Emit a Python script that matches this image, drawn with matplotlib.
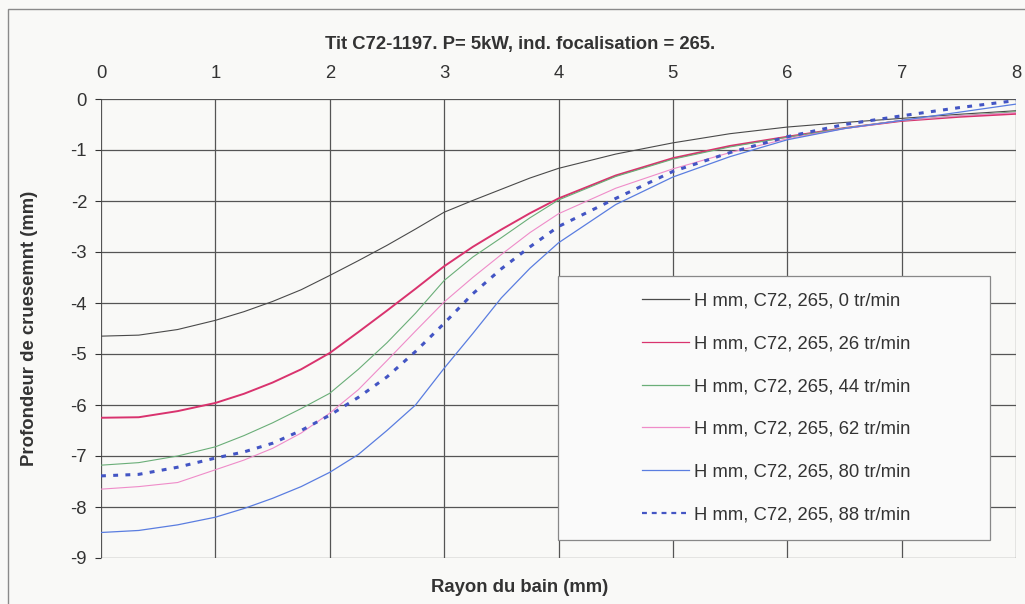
import matplotlib
matplotlib.use("Agg")
import matplotlib.pyplot as plt
from matplotlib.patches import Rectangle

plt.rcParams['font.family'] = ['Liberation Sans', 'DejaVu Sans']

# ---- data ----
rayon = [0, 0.33, 0.67, 1, 1.25, 1.5, 1.75, 2, 2.25, 2.5, 2.75, 3, 3.25, 3.5, 3.75, 4,
         4.5, 5, 5.5, 6, 6.5, 7, 7.5, 8]
h_0 = [-4.65, -4.63, -4.52, -4.34, -4.17, -3.97, -3.74, -3.46, -3.17, -2.87, -2.55, -2.22,
       -1.99, -1.77, -1.55, -1.36, -1.08, -0.86, -0.68, -0.55, -0.46, -0.38, -0.30, -0.23]
h_26 = [-6.25, -6.24, -6.12, -5.96, -5.78, -5.56, -5.30, -4.98, -4.57, -4.15, -3.72, -3.28,
        -2.90, -2.56, -2.24, -1.95, -1.50, -1.16, -0.92, -0.74, -0.57, -0.43, -0.35, -0.29]
h_44 = [-7.18, -7.13, -7.00, -6.82, -6.60, -6.35, -6.07, -5.77, -5.30, -4.78, -4.20, -3.56,
        -3.10, -2.72, -2.33, -1.98, -1.52, -1.18, -0.94, -0.75, -0.57, -0.42, -0.33, -0.25]
h_62 = [-7.65, -7.60, -7.52, -7.27, -7.08, -6.85, -6.55, -6.16, -5.70, -5.13, -4.55, -3.98,
        -3.50, -3.05, -2.62, -2.25, -1.75, -1.37, -1.05, -0.78, -0.58, -0.42, -0.33, -0.27]
h_80 = [-8.50, -8.46, -8.35, -8.20, -8.03, -7.83, -7.60, -7.32, -6.97, -6.50, -6.00, -5.28,
        -4.60, -3.90, -3.32, -2.82, -2.07, -1.53, -1.13, -0.80, -0.58, -0.42, -0.26, -0.10]
h_88 = [-7.39, -7.36, -7.22, -7.04, -6.92, -6.75, -6.50, -6.20, -5.85, -5.45, -4.95, -4.40,
        -3.82, -3.33, -2.90, -2.50, -1.95, -1.42, -1.05, -0.74, -0.50, -0.33, -0.17, -0.03]
labels = ["H mm, C72, 265, 0 tr/min", "H mm, C72, 265, 26 tr/min", "H mm, C72, 265, 44 tr/min",
          "H mm, C72, 265, 62 tr/min", "H mm, C72, 265, 80 tr/min", "H mm, C72, 265, 88 tr/min"]
x_ticks = [0, 1, 2, 3, 4, 5, 6, 7, 8]
y_ticks = [0, -1, -2, -3, -4, -5, -6, -7, -8, -9]
title = "Tit C72-1197. P= 5kW, ind. focalisation = 265."
xlabel = "Rayon du bain (mm)"
ylabel = "Profondeur de cruesemnt (mm)"

W, H = 1025, 604
BG = "#f9f9f7"
fig = plt.figure(figsize=(W / 100, H / 100), dpi=100, facecolor=BG)
ax = fig.add_axes([101 / W, 1 - 558 / H, (1016 - 101) / W, (558 - 99) / H])
ax.set_facecolor(BG)

# outer chart frame
fig.patches.append(Rectangle((8 / W, -0.05), 1.1, 1 - 9 / H + 0.05, transform=fig.transFigure,
                             fill=False, edgecolor="#8a8a8a", linewidth=1.0))

styles = [
    dict(color="#4a4a4a", lw=0.8),
    dict(color="#d9336e", lw=1.4),
    dict(color="#6aae78", lw=0.8),
    dict(color="#ef8cc9", lw=0.8),
    dict(color="#5a7de0", lw=0.9),
    dict(color="#4355c4", lw=2.2, linestyle=(0, (1.6, 2.4))),
]
series = [h_0, h_26, h_44, h_62, h_80, h_88]
for ys, lab, st in zip(series, labels, styles):
    ax.plot(rayon, ys, label=lab, **st)

ax.set_xlim(0, 8)
ax.set_ylim(-9, 0)
ax.set_xticks(x_ticks)
ax.set_yticks(y_ticks)
ax.set_yticklabels([str(v) for v in y_ticks])
ax.xaxis.tick_top()
ax.tick_params(axis="x", length=0, pad=12, labelsize=13.3, colors="#333333")
ax.tick_params(axis="y", length=4, pad=6, labelsize=13.3, colors="#333333", width=0.8)
ax.grid(True, color="#555555", linewidth=0.9)
ax.set_axisbelow(True)
for s in ax.spines.values():
    s.set_visible(False)

fig.text(520 / W, 1 - 45 / H, title, ha="center", va="center", fontsize=13.3,
         fontweight="bold", color="#333333")
fig.text(520 / W, 1 - 588 / H, xlabel, ha="center", va="center", fontsize=13.3,
         fontweight="bold", color="#333333")
fig.text(30 / W, 1 - 328 / H, ylabel, ha="center", va="center", rotation=90, fontsize=13.3,
         fontweight="bold", color="#333333")

# legend box (Excel-style, wider than its contents)
bx0, bx1 = (558 - 101) / 915, (990 - 101) / 915
by0, by1 = (558 - 540) / 459, (558 - 276) / 459
ax.add_patch(Rectangle((bx0, by0), bx1 - bx0, by1 - by0, transform=ax.transAxes,
                       facecolor="#fafafa", edgecolor="#888888", linewidth=0.9, zorder=4))
leg = ax.legend(loc="center", bbox_to_anchor=((776 - 101) / 915, (558 - 408) / 459),
                fontsize=13.3, frameon=False, handlelength=2.55, handletextpad=0.28,
                labelspacing=1.4, borderpad=0, borderaxespad=0)
leg.set_zorder(5)
for t in leg.get_texts():
    t.set_color("#333333")
for i, ln in enumerate(leg.get_lines()):
    if i == 5:
        ln.set_linewidth(1.6)
        ln.set_linestyle((0, (2.2, 2.2)))
    else:
        ln.set_linewidth(0.9)

fig.savefig("out.png", dpi=100, facecolor=fig.get_facecolor())
